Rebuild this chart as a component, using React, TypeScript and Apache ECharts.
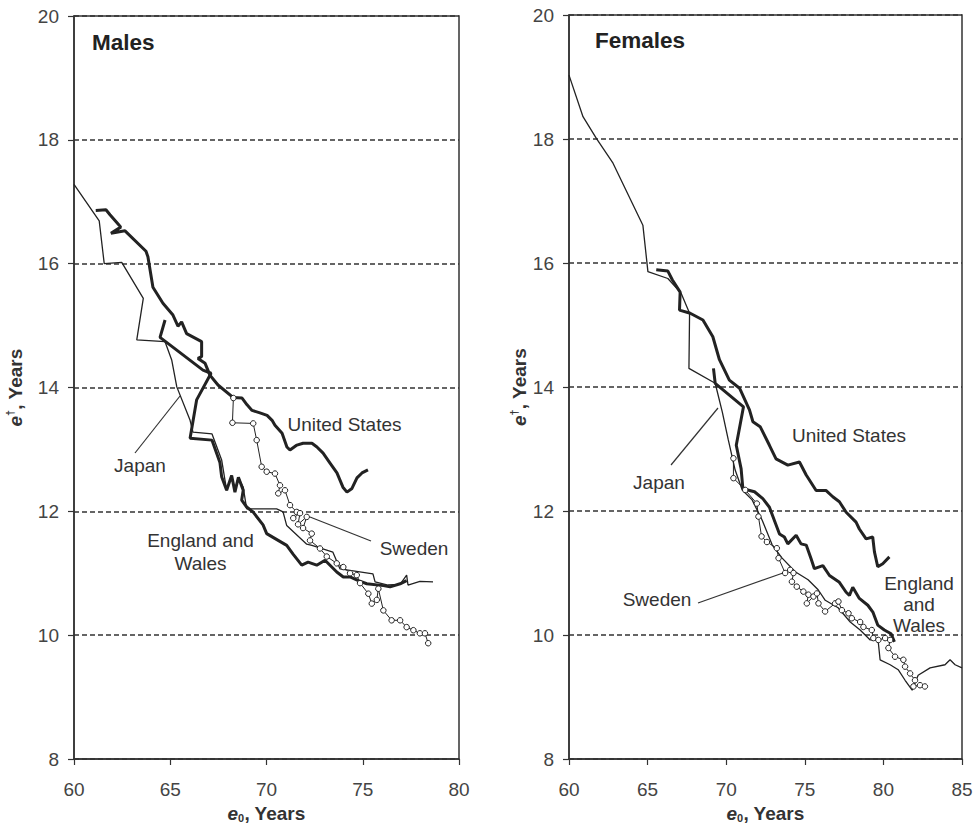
import React, { useEffect, useRef } from "react";
import * as echarts from "echarts";

// ---------- Data (e0, e-dagger) ----------
const M_US: number[][] = [
  [61.13, 16.86], [61.66, 16.87], [61.87, 16.79], [62.29, 16.64], [62.43, 16.59], [61.92, 16.49],
  [62.65, 16.53], [63.74, 16.2], [63.84, 16.11], [64.1, 15.62], [64.62, 15.36], [65.14, 15.17],
  [65.4, 14.99], [65.59, 15.06], [65.85, 14.87], [66.63, 14.74], [66.63, 14.5], [66.44, 14.47],
  [66.81, 14.39], [67.06, 14.2], [67.48, 14.04], [68.26, 13.84], [68.73, 13.83], [68.99, 13.72],
  [69.25, 13.63], [69.66, 13.59], [70.03, 13.55], [70.29, 13.47], [70.44, 13.39], [70.81, 13.26],
  [71.06, 13.04], [71.22, 12.99], [71.58, 13.07], [71.9, 13.1], [72.36, 13.1], [72.62, 13.04],
  [72.94, 12.94], [73.3, 12.78], [73.66, 12.62], [73.97, 12.39], [74.18, 12.31], [74.44, 12.37],
  [74.7, 12.54], [74.96, 12.62], [75.27, 12.67],
];
const M_JAPAN: number[][] = [
  [60.0, 17.28], [61.31, 16.69], [61.57, 16.0], [62.48, 16.02], [63.6, 15.44], [63.26, 14.77],
  [64.73, 14.74], [65.08, 14.44], [65.34, 14.01], [66.03, 13.47], [66.18, 13.28], [67.17, 13.25],
  [67.67, 12.83], [67.93, 12.34], [68.19, 12.58], [68.36, 12.34], [68.54, 12.55], [68.79, 12.39],
  [68.97, 12.04], [70.53, 12.04], [70.86, 11.99], [71.05, 11.77], [72.09, 11.47], [72.36, 11.45],
  [73.45, 11.34], [73.82, 11.07], [75.53, 10.99], [75.64, 10.86], [76.31, 10.81], [76.94, 10.82],
  [77.28, 10.97], [77.35, 10.81], [77.97, 10.87], [78.65, 10.86],
];
const M_ENGLAND: number[][] = [
  [64.73, 15.09], [64.47, 14.81], [66.7, 14.28], [67.12, 14.23], [66.37, 13.8], [66.03, 13.18],
  [67.17, 13.15], [67.58, 12.79], [67.67, 12.56], [67.93, 12.34], [68.19, 12.58], [68.36, 12.31],
  [68.54, 12.55], [68.79, 12.34], [68.71, 12.18], [68.97, 12.07], [69.3, 11.99], [69.82, 11.78],
  [70.01, 11.64], [70.34, 11.58], [71.05, 11.45], [71.38, 11.31], [71.83, 11.13], [72.16, 11.18],
  [72.61, 11.13], [73.04, 11.21], [73.65, 11.02], [73.99, 10.94], [74.34, 10.94], [74.77, 10.88],
  [75.21, 10.83], [76.07, 10.8], [76.42, 10.78], [76.94, 10.83], [77.28, 10.88],
];
const M_SWEDEN: number[][] = [
  [68.28, 13.83], [68.23, 13.43], [69.31, 13.42], [69.49, 13.15], [69.75, 12.72], [70.01, 12.64],
  [70.44, 12.61], [70.7, 12.42], [70.61, 12.29], [70.96, 12.34], [71.22, 12.1], [71.57, 11.99],
  [71.39, 11.89], [71.74, 11.97], [71.64, 11.79], [72.09, 11.91], [71.9, 11.73], [72.35, 11.64],
  [72.26, 11.53], [72.78, 11.4], [73.13, 11.27], [73.65, 11.16], [73.99, 11.1], [74.34, 11.0],
  [74.69, 10.97], [74.86, 10.84], [75.29, 10.67], [75.47, 10.51], [75.73, 10.57], [75.81, 10.75],
  [76.07, 10.4], [76.5, 10.24], [76.94, 10.24], [77.28, 10.13], [77.63, 10.08], [77.97, 10.03],
  [78.23, 10.03], [78.4, 9.87],
];

const F_JAPAN: number[][] = [
  [60.0, 19.03], [60.89, 18.36], [61.74, 18.01], [62.8, 17.61], [64.7, 16.61], [65.02, 15.86],
  [66.29, 15.75], [67.14, 15.51], [67.67, 15.19], [67.63, 14.3], [69.3, 14.06], [69.75, 13.6],
  [70.13, 13.15], [70.57, 12.66], [71.02, 12.34], [71.65, 12.18], [72.29, 11.85], [72.93, 11.45],
  [73.56, 11.24], [74.39, 11.02], [75.21, 10.89], [75.85, 10.73], [76.3, 10.56], [77.12, 10.44],
  [77.89, 10.21], [78.52, 10.08], [79.16, 9.92], [79.66, 9.92], [79.79, 9.6], [80.43, 9.52],
  [80.94, 9.44], [81.38, 9.27], [81.83, 9.11], [82.21, 9.35], [82.97, 9.47], [83.92, 9.52],
  [84.24, 9.6], [84.56, 9.52], [85.0, 9.47],
];
const F_US: number[][] = [
  [65.55, 15.89], [66.29, 15.87], [66.57, 15.73], [67.07, 15.53], [67.03, 15.24], [67.71, 15.19],
  [68.52, 15.08], [69.15, 14.81], [69.57, 14.44], [70.2, 14.11], [70.85, 13.98], [71.48, 13.63],
  [71.7, 13.44], [72.16, 13.36], [72.75, 13.06], [73.17, 12.84], [73.92, 12.74], [74.66, 12.79],
  [75.09, 12.58], [75.72, 12.33], [76.36, 12.33], [76.78, 12.23], [77.2, 12.15], [77.63, 11.98],
  [78.26, 11.82], [78.47, 11.71], [78.9, 11.55], [79.32, 11.58], [79.43, 11.34], [79.64, 11.1],
  [79.96, 11.15], [80.38, 11.26],
];
const F_ENGLAND: number[][] = [
  [69.19, 14.3], [69.3, 14.06], [71.1, 13.68], [70.64, 13.06], [70.95, 12.68], [71.06, 12.36],
  [71.8, 12.31], [72.33, 12.2], [72.75, 12.06], [73.18, 11.77], [73.39, 11.63], [73.7, 11.58],
  [73.92, 11.47], [74.45, 11.61], [74.76, 11.47], [75.09, 11.45], [75.4, 11.23], [75.61, 11.07],
  [76.15, 11.12], [76.57, 10.96], [77.2, 10.85], [77.63, 10.69], [77.84, 10.64], [78.05, 10.77],
  [78.47, 10.59], [79.01, 10.48], [79.33, 10.37], [79.64, 10.16], [80.06, 10.08], [80.49, 10.02],
  [80.7, 9.89],
];
const F_SWEDEN: number[][] = [
  [70.46, 12.85], [70.46, 12.53], [71.21, 12.34], [71.95, 12.12], [72.05, 11.91], [72.25, 11.59],
  [72.59, 11.5], [73.22, 11.4], [73.33, 11.24], [73.75, 11.0], [74.07, 11.05], [74.28, 11.0],
  [74.18, 10.86], [74.49, 10.78], [74.91, 10.7], [75.23, 10.65], [75.13, 10.51], [75.55, 10.62],
  [75.77, 10.67], [75.87, 10.51], [76.29, 10.38], [76.93, 10.51], [77.14, 10.54], [77.36, 10.4],
  [77.78, 10.35], [77.99, 10.27], [78.52, 10.21], [78.73, 10.13], [79.26, 10.08], [79.36, 9.95],
  [79.68, 9.92], [80.11, 9.95], [80.43, 9.92], [80.32, 9.79], [80.74, 9.65], [81.27, 9.6],
  [81.38, 9.49], [81.7, 9.38], [82.01, 9.27], [81.91, 9.17], [82.33, 9.19], [82.64, 9.17],
];

const Y_MIN = 8;
const Y_MAX = 20;
const X_MALE = [60, 80];
const X_FEMALE = [60, 85];

const FONT = '"Liberation Sans", Arial, Helvetica, sans-serif';
const INK = "#222";
const GREY = "#333";

export default function App() {
  const ref = useRef<HTMLDivElement>(null);
  useEffect(() => {
    if (!ref.current) return;
    const chart = echarts.init(ref.current, null, { renderer: "svg" });

    const yAxisBase = (gridIndex: number, gap: number) => ({
      type: "value" as const,
      gridIndex,
      min: Y_MIN,
      max: Y_MAX,
      interval: 2,
      name: "{e|e}{sup|†}{r|, Years}",
      nameLocation: "middle" as const,
      nameGap: gap,
      nameTextStyle: {
        rich: {
          e: { fontFamily: FONT, fontSize: 19, fontWeight: "bold", fontStyle: "italic", color: GREY },
          sup: { fontFamily: FONT, fontSize: 11, fontWeight: "bold", color: GREY, verticalAlign: "top", lineHeight: 22 },
          r: { fontFamily: FONT, fontSize: 19, fontWeight: "bold", color: GREY },
        },
      },
      axisLine: { show: true, lineStyle: { color: GREY, width: 1.5 } },
      axisTick: { show: true, inside: false, length: 6, lineStyle: { color: GREY, width: 1.2 } },
      axisLabel: { fontFamily: FONT, fontSize: 19, color: "#444", margin: 15 },
      splitLine: { show: true, lineStyle: { color: GREY, width: 1.5, type: [5, 3] } },
    });

    const xAxisBase = (gridIndex: number, range: number[]) => ({
      type: "value" as const,
      gridIndex,
      min: range[0],
      max: range[1],
      interval: 5,
      name: "{e|e}{sub|0}{r|, Years}",
      nameLocation: "middle" as const,
      nameGap: 39,
      nameTextStyle: {
        rich: {
          e: { fontFamily: FONT, fontSize: 19, fontWeight: "bold", fontStyle: "italic", color: GREY, lineHeight: 20 },
          sub: { fontFamily: FONT, fontSize: 11, fontWeight: "bold", color: GREY, verticalAlign: "bottom", lineHeight: 14 },
          r: { fontFamily: FONT, fontSize: 19, fontWeight: "bold", color: GREY, lineHeight: 20 },
        },
      },
      axisLine: { show: true, onZero: false, lineStyle: { color: GREY, width: 1.5 } },
      axisTick: { show: true, inside: false, length: 6, lineStyle: { color: GREY, width: 1.2 } },
      axisLabel: { fontFamily: FONT, fontSize: 19, color: "#444", margin: 21 },
      splitLine: { show: false },
    });

    const line = (data: number[][], idx: number, width: number, z = 2) => ({
      type: "line" as const,
      xAxisIndex: idx,
      yAxisIndex: idx,
      data,
      showSymbol: false,
      symbol: "none",
      lineStyle: { color: INK, width },
      z,
    });
    const sweden = (data: number[][], idx: number) => ({
      type: "line" as const,
      xAxisIndex: idx,
      yAxisIndex: idx,
      data,
      symbol: "circle",
      symbolSize: 5.5,
      showSymbol: true,
      lineStyle: { color: INK, width: 1 },
      itemStyle: { color: "#fff", borderColor: INK, borderWidth: 1 },
      z: 5,
    });

    const label = (text: string, x: number, y: number, lh = 23) => ({
      type: "text" as const,
      x,
      y,
      style: {
        text,
        font: `19px ${FONT}`,
        fill: GREY,
        align: "center",
        verticalAlign: "middle",
        lineHeight: lh,
      },
      z: 10,
    });
    const leader = (x1: number, y1: number, x2: number, y2: number) => ({
      type: "line" as const,
      shape: { x1, y1, x2, y2 },
      style: { stroke: GREY, lineWidth: 1.2 },
      z: 10,
    });

    chart.setOption({
      animation: false,
      backgroundColor: "#fff",
      grid: [
        { left: 74, top: 16, width: 385, height: 743, show: true, borderColor: GREY, borderWidth: 1.5, backgroundColor: "transparent", outerBoundsMode: "none", containLabel: false },
        { left: 569, top: 15, width: 393, height: 744, show: true, borderColor: GREY, borderWidth: 1.5, backgroundColor: "transparent", outerBoundsMode: "none", containLabel: false },
      ],
      xAxis: [xAxisBase(0, X_MALE), xAxisBase(1, X_FEMALE)],
      yAxis: [yAxisBase(0, 48), yAxisBase(1, 38)],
      series: [
        line(M_JAPAN, 0, 1.3),
        line(M_ENGLAND, 0, 3),
        line(M_US, 0, 3),
        sweden(M_SWEDEN, 0),
        line(F_JAPAN, 1, 1.3),
        line(F_ENGLAND, 1, 3),
        line(F_US, 1, 3),
        sweden(F_SWEDEN, 1),
      ],
      graphic: [
        {
          type: "text",
          x: 92,
          y: 42,
          style: { text: "Males", font: `bold 22.5px ${FONT}`, fill: INK, align: "left", verticalAlign: "middle" },
          z: 10,
        },
        {
          type: "text",
          x: 595,
          y: 40,
          style: { text: "Females", font: `bold 22.5px ${FONT}`, fill: INK, align: "left", verticalAlign: "middle" },
          z: 10,
        },
        label("United States", 344.5, 424),
        label("Japan", 140, 465),
        label("Sweden", 414, 548),
        label("England and\nWales", 200.5, 552, 23.5),
        leader(180, 396, 135, 453),
        leader(310, 517, 371, 541),
        label("United States", 849, 435),
        label("Japan", 659, 482),
        label("Sweden", 657, 599),
        label("England\nand\nWales", 919, 604, 21),
        leader(718, 408, 671, 465),
        leader(783, 573, 698, 603),
      ],
    });
    return () => chart.dispose();
  }, []);

  return (
    <div
      ref={ref}
      style={{ position: "fixed", left: 0, top: 0, width: 973, height: 824, background: "#fff" }}
    />
  );
}
